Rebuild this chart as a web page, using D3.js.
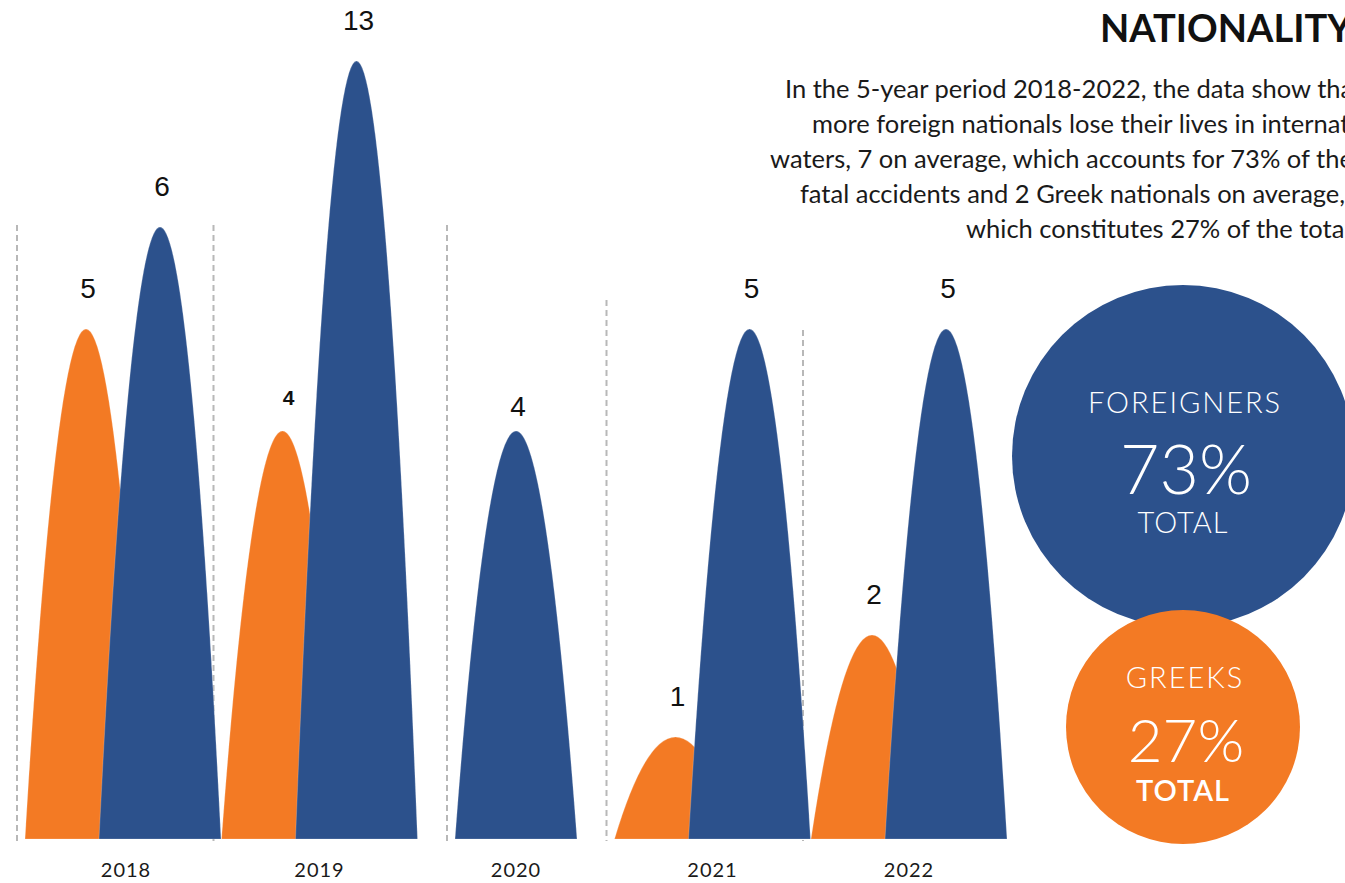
<!DOCTYPE html>
<html>
<head>
<meta charset="utf-8">
<script src="https://cdn.jsdelivr.net/npm/d3@7/dist/d3.min.js"></script>
<style>
  html, body { margin: 0; padding: 0; background: #ffffff; overflow: hidden; }
  svg { display: block; }
</style>
</head>
<body>
<svg id="chart" width="1345" height="883"></svg>
<script>
// Fatalities by nationality per year
const years = ["2018", "2019", "2020", "2021", "2022"];
const greeks = [5, 4, 0, 1, 2];
const foreigners = [6, 13, 4, 5, 5];
const seriesNames = ["Greeks", "Foreigners"];
const shareLabels = ["GREEKS", "FOREIGNERS"];
const shares = [27, 73];
const titleText = "NATIONALITY";
const noteLines = [
  "In the 5-year period 2018-2022, the data show that",
  "more foreign nationals lose their lives in international",
  "waters, 7 on average, which accounts for 73% of the",
  "fatal accidents and 2 Greek nationals on average,",
  "which constitutes 27% of the total."
];

const ORANGE = "#f37a24";
const BLUE = "#2c518c";
const colors = { Greeks: ORANGE, Foreigners: BLUE };

const svg = d3.select("#chart");
const baseY = 839;

// Year positions and a broken value scale (13 is compressed above 6)
const x = d3.scalePoint().domain(years).range([123, 909]);
const y = d3.scaleLinear().domain([0, 6, 13]).range([baseY, 227, 61]);
const halfW = 61;      // half base width of a spike
const pairOffset = 37; // distance of each spike from its year centre

// Spike records built from the data arrays
const spikes = [];
years.forEach((yr, i) => {
  const g = greeks[i], f = foreigners[i];
  const pair = g > 0 && f > 0;
  if (g > 0) spikes.push({ year: yr, series: "Greeks", value: g, cx: x(yr) - (pair ? pairOffset : 0) });
  if (f > 0) spikes.push({ year: yr, series: "Foreigners", value: f, cx: x(yr) + (pair ? pairOffset : 0) });
});

// Parabolic spike: quadratic curve whose vertex sits at the value height
function spikePath(d) {
  const top = y(d.value);
  const ctrl = 2 * top - baseY;
  return `M${d.cx - halfW},${baseY} Q${d.cx},${ctrl} ${d.cx + halfW},${baseY} Z`;
}

// Dashed separators just left of each year group
const dashTops = [225, 225, 225, 300, 330];
const groupLeft = years.map(yr => d3.min(spikes.filter(s => s.year === yr), s => s.cx - halfW) - 8);
svg.append("g").selectAll("line").data(years).join("line")
  .attr("x1", (d, i) => groupLeft[i]).attr("x2", (d, i) => groupLeft[i])
  .attr("y1", (d, i) => dashTops[i]).attr("y2", baseY + 2)
  .attr("stroke", "#b8b8b8").attr("stroke-width", 2)
  .attr("stroke-dasharray", "6,4");

// Greeks first, foreigners drawn over them
const ordered = seriesNames.flatMap(s => spikes.filter(d => d.series === s));
svg.append("g").selectAll("path").data(ordered).join("path")
  .attr("d", spikePath)
  .attr("fill", d => colors[d.series])
  .attr("stroke", "rgba(255,255,255,0.35)")
  .attr("stroke-width", 0.6);

// Value labels above the peaks
const isSmall = d => d.year === "2019" && d.series === "Greeks";
svg.append("g").selectAll("text").data(ordered).join("text")
  .attr("x", d => d.cx + (isSmall(d) ? 6 : 2))
  .attr("y", d => y(d.value) - (d.year === "2020" ? 15 : (isSmall(d) ? 26 : 31)))
  .attr("text-anchor", "middle")
  .attr("font-family", "'Liberation Sans', Arial, sans-serif")
  .attr("font-size", d => isSmall(d) ? 21 : 28)
  .attr("font-weight", d => isSmall(d) ? 700 : 400)
  .attr("fill", "#111")
  .text(d => d.value);

// Year axis labels
svg.append("g").selectAll("text").data(years).join("text")
  .attr("x", d => x(d) + (d === "2018" ? 3 : 0))
  .attr("y", 877)
  .attr("text-anchor", "middle")
  .attr("font-family", "Lato, 'Noto Sans', sans-serif")
  .attr("font-size", 20)
  .attr("letter-spacing", 1)
  .attr("fill", "#1a1a1a")
  .text(d => d);

// Title and note
svg.append("text")
  .attr("x", 1100).attr("y", 42)
  .attr("font-family", "Lato, 'Noto Sans', sans-serif")
  .attr("font-size", 38).attr("font-weight", 700)
  .attr("fill", "#111")
  .text(titleText);

const noteX = [785, 812, 770, 800, 966];
svg.append("g").selectAll("text").data(noteLines).join("text")
  .attr("x", (d, i) => noteX[i])
  .attr("y", (d, i) => 98 + i * 35)
  .attr("font-family", "Lato, 'Noto Sans', sans-serif")
  .attr("font-size", 25.5)
  .attr("fill", "#1a1a1a")
  .text(d => d);

// Share bubbles: foreigners behind, greeks in front
const bubbles = [
  { label: shareLabels[1], share: shares[1], fill: BLUE, cx: 1183, cy: 456, r: 171, ly: 413, py: 494, ty: 533, pf: 68, tw: 300 },
  { label: shareLabels[0], share: shares[0], fill: ORANGE, cx: 1183, cy: 727, r: 117, ly: 688, py: 762, ty: 801, pf: 60, tw: 600 }
];
const bg = svg.append("g").selectAll("g").data(bubbles).join("g");
bg.append("circle")
  .attr("cx", d => d.cx).attr("cy", d => d.cy).attr("r", d => d.r)
  .attr("fill", d => d.fill);
bg.append("text")
  .attr("x", d => d.cx + 2).attr("y", d => d.ly)
  .attr("text-anchor", "middle")
  .attr("font-family", "Lato, 'Noto Sans', sans-serif")
  .attr("font-size", 29).attr("font-weight", 300)
  .attr("letter-spacing", 2)
  .attr("fill", "#fff")
  .text(d => d.label);
bg.append("text")
  .attr("x", d => d.cx + 3).attr("y", d => d.py)
  .attr("text-anchor", "middle")
  .attr("font-family", "Lato, 'Noto Sans', sans-serif")
  .attr("font-size", d => d.pf).attr("font-weight", 300)
  .attr("fill", "#fff")
  .text(d => d.share + "%");
bg.append("text")
  .attr("x", d => d.cx).attr("y", d => d.ty)
  .attr("text-anchor", "middle")
  .attr("font-family", "Lato, 'Noto Sans', sans-serif")
  .attr("font-size", 29).attr("font-weight", d => d.tw)
  .attr("letter-spacing", 1)
  .attr("fill", "#fff")
  .text("TOTAL");
</script>
</body>
</html>
